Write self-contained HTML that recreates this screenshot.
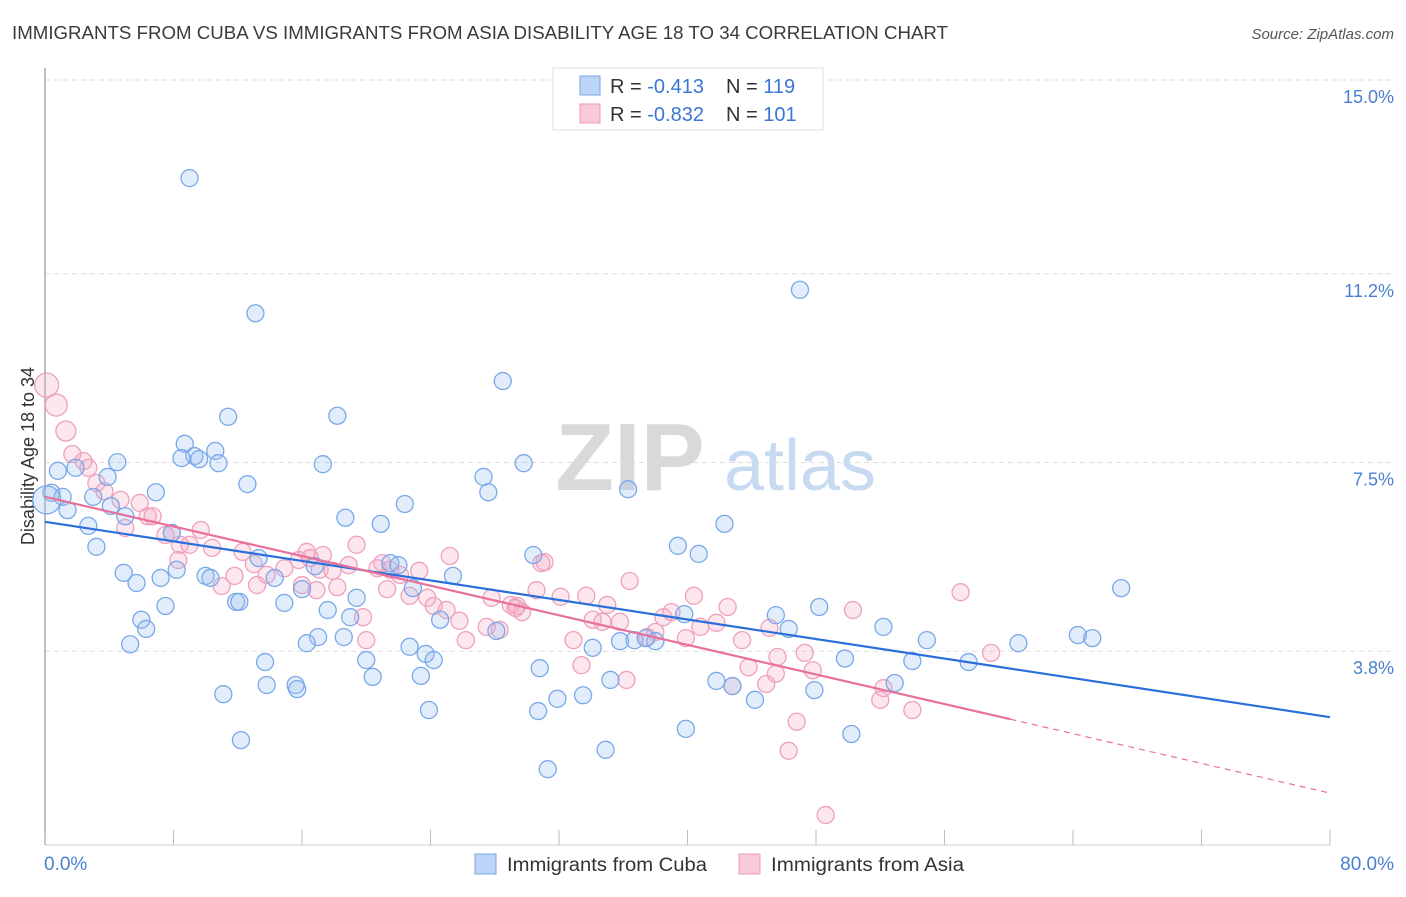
<!DOCTYPE html>
<html><head><meta charset="utf-8"><style>
body{margin:0;background:#fff;font-family:"Liberation Sans",sans-serif;}
svg text{font-family:"Liberation Sans",sans-serif;}
</style></head><body>
<svg id="chart" width="1406" height="892" viewBox="0 0 1406 892" xmlns="http://www.w3.org/2000/svg">
<text x="12" y="39" font-size="18" fill="#3a3a3a" textLength="936" lengthAdjust="spacingAndGlyphs">IMMIGRANTS FROM CUBA VS IMMIGRANTS FROM ASIA DISABILITY AGE 18 TO 34 CORRELATION CHART</text>
<text x="1394" y="39" font-size="15" fill="#555" font-style="italic" text-anchor="end">Source: ZipAtlas.com</text>
<g>
<text x="630" y="490" font-size="96" fill="#d9d9d9" font-family="Liberation Serif" text-anchor="middle" font-weight="bold">ZIP</text>
<text x="800" y="490" font-size="72" fill="#c7daf2" text-anchor="middle">atlas</text>
</g>
<g id="grid"></g>
<line x1="45" y1="68" x2="45" y2="845" stroke="#aaa" stroke-width="1.5"/>
<line x1="45" y1="845" x2="1330" y2="845" stroke="#ccc" stroke-width="1"/>
<g id="xticks"></g>
<g id="yticks"></g>
<text x="44" y="870" font-size="19" fill="#4a7fd0">0.0%</text>
<text x="1394" y="870" font-size="19" fill="#4a7fd0" text-anchor="end">80.0%</text>
<text transform="translate(34,456) rotate(-90)" font-size="18" fill="#333" text-anchor="middle">Disability Age 18 to 34</text>
<g id="pts"></g>
<g id="lines"></g>
<g>
<rect x="553" y="68" width="270" height="62" fill="#fff" stroke="#ddd"/>
<rect x="580" y="76" width="20" height="19" fill="#bcd4f5" stroke="#7aa6e6"/>
<rect x="580" y="104" width="20" height="19" fill="#f9c9d8" stroke="#ee9ab6"/>
<text x="610" y="93" font-size="20" fill="#333">R = <tspan fill="#3a76d6">-0.413</tspan><tspan dx="22">N = </tspan><tspan fill="#3a76d6">119</tspan></text>
<text x="610" y="121" font-size="20" fill="#333">R = <tspan fill="#3a76d6">-0.832</tspan><tspan dx="22">N = </tspan><tspan fill="#3a76d6">101</tspan></text>
</g>
<g>
<rect x="475" y="854" width="21" height="20" fill="#bcd4f5" stroke="#7aa6e6"/>
<text x="507" y="871" font-size="19" fill="#333" textLength="200" lengthAdjust="spacingAndGlyphs">Immigrants from Cuba</text>
<rect x="739" y="854" width="21" height="20" fill="#f9c9d8" stroke="#ee9ab6"/>
<text x="771" y="871" font-size="19" fill="#333" textLength="193" lengthAdjust="spacingAndGlyphs">Immigrants from Asia</text>
</g>
</svg>
<script>
const yTicks=[15.0,11.2,7.5,3.8];
const yTickLabels=["15.0%","11.2%","7.5%","3.8%"];
const xTicks=[0,8,16,24,32,40,48,56,64,72,80];
const cubaX=[9.0,47.0,13.1,28.5,11.4,18.2,8.7,9.3,10.6,8.5,9.6,10.8,4.5,17.3,29.8,27.3,0.8,1.9,3.9,12.6,27.6,36.3,6.9,0.4,1.1,3.0,1.4,4.1,5.0,22.4,18.7,20.9,42.3,2.7,7.9,3.2,39.4,40.7,30.4,13.3,16.8,21.5,14.3,22.0,4.9,8.2,25.4,5.7,7.2,10.0,10.3,16.0,22.9,67.0,19.4,11.9,12.1,7.5,14.9,17.6,19.0,48.2,39.8,45.5,24.6,6.0,6.3,28.1,46.3,52.2,64.3,65.2,54.9,17.0,16.3,18.6,5.3,22.7,23.7,24.2,34.1,35.8,36.7,38.0,37.4,60.6,20.0,13.7,49.8,54.0,57.5,20.4,30.8,23.4,35.2,41.8,11.1,13.8,15.6,15.7,42.8,52.9,47.9,33.5,31.9,44.2,23.9,30.7,39.9,12.2,50.2,34.9,31.3,0.1];
const cubaY=[13.41,11.22,10.76,9.43,8.73,8.75,8.20,7.96,8.06,7.92,7.90,7.82,7.84,7.80,7.82,7.55,7.67,7.73,7.55,7.41,7.25,7.31,7.25,7.24,7.16,7.16,6.90,6.98,6.78,7.02,6.75,6.63,6.63,6.59,6.45,6.18,6.20,6.04,6.02,5.96,5.80,5.86,5.57,5.82,5.67,5.73,5.61,5.47,5.57,5.61,5.57,5.35,5.37,5.37,5.18,5.10,5.10,5.02,5.08,4.94,4.80,5.00,4.86,4.84,4.75,4.75,4.57,4.53,4.57,4.61,4.45,4.39,4.35,4.41,4.29,4.41,4.27,4.22,4.08,3.96,4.20,4.33,4.35,4.33,4.39,4.29,3.96,3.92,3.99,3.94,3.92,3.63,3.80,3.65,3.57,3.55,3.29,3.47,3.47,3.39,3.45,3.51,3.37,3.27,3.20,3.18,2.98,2.96,2.61,2.39,2.51,2.20,1.82,7.10];
const asiaX=[0.1,0.7,1.3,1.7,2.4,2.7,3.2,3.7,4.7,5.9,5.0,6.4,6.7,7.5,7.9,9.7,9.0,10.4,8.3,8.4,12.3,11.8,11.0,13.0,13.8,13.2,14.9,15.8,16.5,17.1,16.0,16.9,18.2,16.3,17.3,19.4,17.9,18.9,20.7,21.0,21.5,22.1,21.3,23.3,25.2,31.1,36.4,22.7,23.8,24.2,25.0,19.8,20.0,25.8,26.2,27.8,28.3,29.0,29.7,29.4,30.6,32.1,33.7,34.1,35.0,35.8,34.7,32.9,38.0,37.5,38.5,39.0,40.4,40.8,42.5,41.8,39.9,36.2,33.4,45.1,43.4,43.8,45.6,47.3,47.8,45.5,44.9,42.8,52.2,50.3,57.0,58.9,52.0,54.0,46.8,46.3,48.6,30.9,29.3,27.5];
const asiaY=[9.35,8.96,8.45,8.00,7.86,7.73,7.43,7.27,7.10,7.04,6.55,6.78,6.78,6.41,6.45,6.51,6.22,6.16,5.92,6.22,6.08,5.61,5.41,5.84,5.63,5.43,5.76,5.92,5.96,5.73,5.43,5.33,5.39,6.08,6.02,6.22,5.71,5.82,5.76,5.86,5.73,5.63,5.35,5.71,6.00,5.88,5.51,5.22,5.18,5.02,4.94,4.80,4.35,4.73,4.35,5.18,4.55,5.04,4.90,5.02,5.33,5.20,5.22,4.75,5.04,4.71,4.71,4.35,4.51,4.41,4.80,4.90,5.22,4.61,5.00,4.69,4.39,3.57,3.86,4.59,4.35,3.82,4.02,4.10,3.76,3.69,3.49,3.45,3.41,4.94,5.29,4.10,3.18,2.98,2.75,2.18,0.92,5.86,4.98,4.61];
const cubaTrend=[[0,6.67],[80,2.84]];
const asiaTrendSolid=[[0,7.16],[60.1,2.80]];
const asiaTrendDash=[[60.1,2.80],[80,1.35]];
const NS="http://www.w3.org/2000/svg";
function X(v){return 45+v*(1285/80);}
function Y(v){return 97+(15-v)*51;}
function mk(tag,attrs,parent){const e=document.createElementNS(NS,tag);for(const k in attrs)e.setAttribute(k,attrs[k]);parent.appendChild(e);return e;}
const grid=document.getElementById('grid'),yt=document.getElementById('yticks'),xt=document.getElementById('xticks');
yTicks.forEach((t,i)=>{
 const l=mk('line',{x1:45,x2:1394,y1:Y(t)-17,y2:Y(t)-17,stroke:'#ddd','stroke-dasharray':'5,4'},grid);
 
 
 const tx=mk('text',{x:1394,y:Y(t)+6,'font-size':18,fill:'#4a7fd0','text-anchor':'end'},yt);
 tx.textContent=yTickLabels[i];
 
 
});
xTicks.forEach(t=>{
 const l=mk('line',{x1:X(t),x2:X(t),y1:830,y2:845,stroke:'#bbb'},xt);
 
 
});
const pts=document.getElementById('pts');
asiaX.forEach((x,i)=>{
 const r=i<3?[12,11,10][i]:8.5;
 const c=mk('circle',{cx:X(x),cy:Y(asiaY[i]),r:r,fill:'rgba(244,170,196,0.28)',stroke:'#efa0bb','stroke-width':1.3},pts);
 
 
});
cubaX.forEach((x,i)=>{
 const r=i===cubaX.length-1?14:8.5;
 const c=mk('circle',{cx:X(x),cy:Y(cubaY[i]),r:r,fill:'rgba(150,190,240,0.28)',stroke:'#7aa8e8','stroke-width':1.3},pts);
 
 
});
const lines=document.getElementById('lines');
function ln(p,col,w,dash){const e=mk('line',{x1:X(p[0][0]),y1:Y(p[0][1]),x2:X(p[1][0]),y2:Y(p[1][1]),stroke:col,'stroke-width':w},lines);if(dash)e.setAttribute('stroke-dasharray',dash);return e;}
const l1=ln(cubaTrend,'#2a6fdb',2.2,null);


const l2=ln(asiaTrendSolid,'#e8709a',2.2,null);


const l3=ln(asiaTrendDash,'#e8709a',1.2,'6,5');


</script>
</body></html>
